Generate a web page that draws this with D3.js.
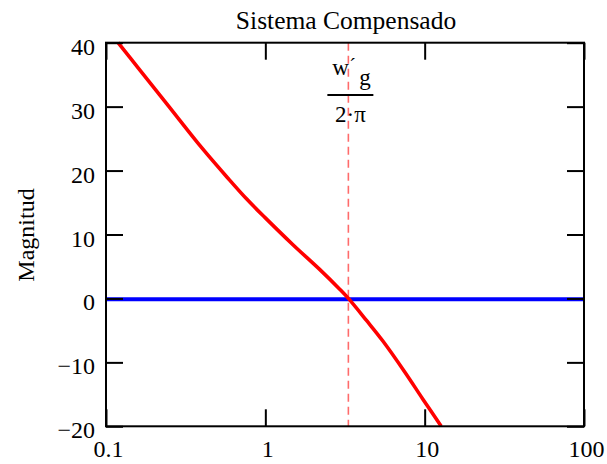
<!DOCTYPE html>
<html>
<head>
<meta charset="utf-8">
<script src="https://cdn.jsdelivr.net/npm/d3@7"></script>
<style>
  html, body { margin: 0; padding: 0; background: #fff; }
</style>
</head>
<body>
<svg id="chart" width="607" height="464" font-family="'Liberation Serif', 'Times New Roman', serif"></svg>
<script>
// Frequency (Hz) and magnitude (dB) of the compensated system
const freqs = [0.119, 0.16, 0.245, 0.401, 0.583, 0.767, 1.0, 1.49, 2.2, 2.94, 3.32, 4.3, 5.48, 7.5, 9.77, 12.7];
const mags  = [40, 36.0, 30.2, 23.5, 18.8, 15.5, 12.6, 8.4, 4.5, 1.4, 0, -3.4, -6.7, -11.5, -15.8, -20];
// Gain-crossover frequency marker (w'g / 2π) and the 0 dB reference
const crossover = 3.32;
const zeroLevel = 0;
// Axis ticks
const xTicks = [0.1, 1, 10, 100];
const xTickLabels = ["0.1", "1", "10", "100"];
const yTicks = [-20, -10, 0, 10, 20, 30, 40];
const title = "Sistema Compensado";
const yTitle = "Magnitud";

const serif = "'Liberation Serif', 'Times New Roman', serif";
const svg = d3.select("#chart");
const pL = 106, pR = 584, pT = 42.7, pB = 426.3;

const x = d3.scaleLog().domain([0.1, 100]).range([pL, pR]);
const y = d3.scaleLinear().domain([-20, 40]).range([pB, pT]);

svg.append("defs").append("clipPath").attr("id", "plotClip")
  .append("rect").attr("x", pL).attr("y", pT - 2)
  .attr("width", pR - pL).attr("height", pB - pT + 4);

const plot = svg.append("g").attr("clip-path", "url(#plotClip)");

// 0 dB reference line
plot.append("line")
  .attr("x1", pL).attr("x2", pR)
  .attr("y1", y(zeroLevel) + 0.7).attr("y2", y(zeroLevel) + 0.7)
  .attr("stroke", "#0000ff").attr("stroke-width", 4);

// crossover marker
plot.append("line")
  .attr("x1", x(crossover)).attr("x2", x(crossover))
  .attr("y1", pT).attr("y2", pB)
  .attr("stroke", "#ff6b6b").attr("stroke-width", 1.6)
  .attr("stroke-dasharray", "8,5");

// magnitude curve
const pts = freqs.map((f, i) => [x(f), y(mags[i])]);
plot.append("path")
  .attr("d", d3.line().curve(d3.curveCatmullRom.alpha(0.5))(pts))
  .attr("fill", "none").attr("stroke", "#ff0000").attr("stroke-width", 3.6);

// frame
svg.append("rect")
  .attr("x", pL).attr("y", pT).attr("width", pR - pL).attr("height", pB - pT)
  .attr("fill", "none").attr("stroke", "#000").attr("stroke-width", 2);

const tickLen = 17;
// y ticks, inside on both sides
const yAxisL = d3.axisLeft(y).tickValues(yTicks).tickSize(-tickLen).tickPadding(11).tickFormat(d3.format("d"));
const gL = svg.append("g").attr("transform", `translate(${pL},0)`).call(yAxisL);
const yAxisR = d3.axisRight(y).tickValues(yTicks).tickSize(-tickLen).tickFormat("");
const gR = svg.append("g").attr("transform", `translate(${pR},0)`).call(yAxisR);

// x ticks, inside on bottom and top
const xAxisB = d3.axisBottom(x).tickValues(xTicks).tickSize(-tickLen)
  .tickPadding(14).tickFormat((d, i) => xTickLabels[i]);
const gB = svg.append("g").attr("transform", `translate(0,${pB})`).call(xAxisB);
const xAxisT = d3.axisTop(x).tickValues(xTicks).tickSize(-tickLen).tickFormat("");
const gT = svg.append("g").attr("transform", `translate(0,${pT})`).call(xAxisT);

[gL, gR, gB, gT].forEach(g => {
  g.attr("font-family", serif);
  g.select(".domain").remove();
  g.selectAll(".tick line").attr("stroke", "#000").attr("stroke-width", 2);
});
gL.selectAll(".tick text").attr("font-size", 24).attr("fill", "#000").attr("dy", "0.48em")
  .text(d => d < 0 ? "\u2212" + Math.abs(d) : d);
gB.selectAll(".tick text").attr("font-size", 24).attr("fill", "#000").attr("dx", 2);

// title and y label
svg.append("text").attr("x", 346).attr("y", 28.5).attr("text-anchor", "middle")
  .attr("font-size", 25.5).text(title);
svg.append("text").attr("transform", "translate(33.5,235) rotate(-90)")
  .attr("text-anchor", "middle").attr("font-size", 24).text(yTitle);

// crossover annotation: w'g / (2·π)
const ann = svg.append("g").attr("transform", `translate(${x(crossover) + 2},0)`);
ann.append("text").attr("x", -18).attr("y", 75).attr("font-size", 23).text("w");
ann.append("text").attr("x", -1).attr("y", 73).attr("font-size", 20).text("\u00b4");
ann.append("text").attr("x", 9).attr("y", 85).attr("font-size", 23).text("g");
ann.append("line").attr("x1", -23).attr("x2", 23).attr("y1", 95).attr("y2", 95)
  .attr("stroke", "#000").attr("stroke-width", 2);
ann.append("text").attr("x", 0).attr("y", 121.7).attr("text-anchor", "middle")
  .attr("font-size", 23).text("2\u00b7\u03c0");
</script>
</body>
</html>
